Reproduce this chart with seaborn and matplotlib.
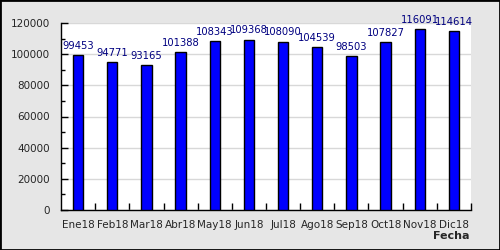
import matplotlib
matplotlib.use("Agg")
import matplotlib.pyplot as plt
import seaborn as sns
import pandas as pd
from matplotlib.ticker import MultipleLocator, FixedLocator

categories = ["Ene18", "Feb18", "Mar18", "Abr18", "May18", "Jun18",
              "Jul18", "Ago18", "Sep18", "Oct18", "Nov18", "Dic18"]
values = [99453, 94771, 93165, 101388, 108343, 109368,
          108090, 104539, 98503, 107827, 116091, 114614]
yticks = [0, 20000, 40000, 60000, 80000, 100000, 120000]

sns.set_style("white")
plt.rcParams['font.family'] = ['DejaVu Sans']

df = pd.DataFrame({"Fecha": categories, "Valor": values})

fig = plt.figure(figsize=(5, 2.5), dpi=100, facecolor="#e6e6e6")
ax = fig.add_axes([0.122, 0.16, 0.82, 0.748])
ax.set_facecolor("white")

sns.barplot(data=df, x="Fecha", y="Valor", color="#0000ff", width=0.3,
            edgecolor="black", linewidth=1, saturation=1, ax=ax, zorder=3)

ax.set_xlim(-0.5, len(categories) - 0.5)
ax.set_ylim(0, 120000)
ax.set_yticks(yticks)
ax.set_yticklabels([str(v) for v in yticks], fontsize=7.5)
ax.yaxis.set_minor_locator(MultipleLocator(10000))
ax.grid(axis="y", color="#d8d8d8", linewidth=1, zorder=0)
ax.set_axisbelow(True)

ax.set_xticks(range(len(categories)))
ax.set_xticklabels(categories, fontsize=7.5)
ax.xaxis.set_minor_locator(FixedLocator([i + 0.5 for i in range(len(categories))]))
ax.tick_params(axis="x", which="major", length=0, pad=7)
ax.tick_params(axis="x", which="minor", direction="in", length=5, width=1, color="black")
ax.tick_params(axis="y", which="major", direction="in", length=5, width=1, color="black", pad=8)
ax.tick_params(axis="y", which="minor", direction="in", length=3, width=1, color="black")
ax.tick_params(axis="y", which="both", left=True)
ax.tick_params(axis="x", which="minor", bottom=True)

for side in ["top", "right"]:
    ax.spines[side].set_visible(False)
for side in ["left", "bottom"]:
    ax.spines[side].set_color("black")
    ax.spines[side].set_linewidth(1)

ax.set_xlabel("")
ax.set_ylabel("")

for i, v in enumerate(values):
    ax.annotate(str(v), (i, v), xytext=(0, 3), textcoords="offset points",
                ha="center", va="bottom", color="#000080", fontsize=7.2)

fig.text(0.938, 0.035, "Fecha", ha="right", va="bottom", fontsize=8, fontweight="bold")

border = plt.Rectangle((0, 0), 1, 1, transform=fig.transFigure, fill=False,
                       edgecolor="black", linewidth=2)
fig.patches.append(border)

fig.savefig("out.png", dpi=100, facecolor=fig.get_facecolor())
